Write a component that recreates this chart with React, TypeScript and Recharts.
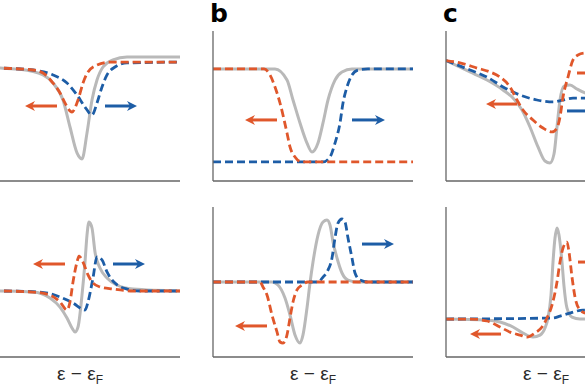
import React from "react";
import { LineChart, Line, XAxis, YAxis } from "recharts";

// ---- data (energy relative to E_F in arbitrary units, signal in arbitrary units) ----
const xTicks = [0];

const topAGray = [[-5,7.62],[-4,7.53],[-3,7.45],[-1.85,7.07],[-1.35,6.53],[-0.85,5.4],[-0.5,3.6],[-0.15,1.87],[0.1,1.47],[0.35,3.2],[0.6,5.4],[0.85,6.73],[1.15,7.6],[1.65,8.07],[2.35,8.27],[5,8.27]];
const topAOrange = [[-5,7.6],[-4,7.53],[-2.35,7.4],[-1.85,7.2],[-1.35,6.53],[-1.0,5.87],[-0.75,5.2],[-0.4,4.6],[-0.1,5.4],[0.15,6.53],[0.4,7.27],[0.85,7.73],[1.5,7.93],[5,7.93]];
const topABlue = [[-5,7.6],[-4,7.53],[-2.35,7.4],[-1.35,7.07],[-0.65,6.53],[-0.15,5.73],[0.25,4.93],[0.6,4.4],[0.85,5.2],[1.1,6.27],[1.35,7.07],[1.75,7.6],[2.35,7.87],[5,7.93]];

const topBGray = [[-5,7.47],[-1.9,7.47],[-1.3,6.73],[-1.0,5.4],[-0.65,3.87],[-0.3,2.53],[-0.05,1.93],[0.25,2.53],[0.5,3.87],[0.75,5.4],[1.1,6.73],[1.45,7.27],[1.95,7.47],[5,7.47]];
const topBOrange = [[-5,7.47],[-2.45,7.47],[-2.15,7.07],[-1.9,6.27],[-1.65,5.2],[-1.3,3.2],[-1.15,2.27],[-0.9,1.6],[-0.55,1.27],[5,1.27]];
const topBBlue = [[-5,1.27],[0.5,1.27],[0.85,1.6],[1.1,2.53],[1.35,3.87],[1.5,5.2],[1.7,6.27],[1.95,7.07],[2.25,7.4],[2.75,7.47],[5,7.47]];

const topCGray = [[-5,8.03],[-3.8,7.27],[-2.95,6.73],[-2.15,6.07],[-1.65,5.53],[-1.2,4.73],[-0.8,3.6],[-0.4,2.27],[-0.05,1.33],[0.2,1.2],[0.4,1.8],[0.55,3.6],[0.7,5.4],[0.9,6.33],[1.2,6.4],[1.55,6.13],[1.95,5.87],[3,5.6],[5,5.4]];
const topCOrange = [[-5,8.03],[-4.3,7.87],[-3.45,7.53],[-2.8,7.27],[-2.3,6.93],[-1.8,6.27],[-1.45,5.4],[-1.15,4.73],[-0.65,4.07],[-0.15,3.53],[0.3,3.27],[0.55,3.53],[0.7,4.27],[0.85,5.6],[1.1,6.93],[1.35,8.07],[1.6,8.4],[1.95,8.53],[3,8.6],[5,8.6]];
const topCBlue = [[-5,8.03],[-3.8,7.4],[-2.95,6.93],[-2.15,6.27],[-1.3,5.73],[-0.45,5.4],[0.35,5.27],[0.85,5.4],[1.35,5.53],[1.95,5.53],[5,5.6]];

const botAGray = [[-5,0],[-4,0],[-2.35,-0.07],[-1.5,-0.47],[-1.0,-1.07],[-0.65,-1.8],[-0.4,-2.47],[-0.25,-2.73],[-0.1,-2.4],[0.1,-0.27],[0.25,1.93],[0.35,3.73],[0.45,4.6],[0.6,4.2],[0.75,2.6],[1.0,1.53],[1.35,0.87],[1.85,0.4],[2.65,0.13],[5,0]];
const botAOrange = [[-5,0],[-4,0],[-2.35,-0.07],[-1.5,-0.27],[-1.0,-0.73],[-0.65,-1.27],[-0.5,-0.73],[-0.35,0.6],[-0.15,1.93],[-0.05,2.33],[0.15,1.93],[0.4,1.07],[0.65,0.53],[1.0,0.27],[1.65,0.13],[2.65,0],[5,0]];
const botABlue = [[-5,0],[-4,0],[-2.0,-0.07],[-1.0,-0.4],[-0.35,-0.8],[0.25,-1.27],[0.4,-0.73],[0.65,0.87],[0.85,2.27],[1.1,2.07],[1.35,1.27],[1.75,0.53],[2.35,0.13],[3.0,0],[5,0]];

const botBGray = [[-5,0],[-2.05,0],[-1.75,-0.2],[-1.4,-1.07],[-1.15,-2.2],[-0.9,-3.53],[-0.65,-4.07],[-0.5,-3.53],[-0.3,-1.73],[-0.15,-0.07],[0,1.33],[0.25,3.13],[0.5,4.0],[0.7,4.13],[0.85,3.8],[1.0,2.67],[1.2,1.6],[1.45,0.6],[1.75,0.13],[2.25,0],[5,0]];
const botBOrange = [[-5,0],[-2.65,0],[-2.5,-0.33],[-2.3,-0.87],[-2.05,-2.2],[-1.8,-3.33],[-1.65,-4.0],[-1.5,-4.07],[-1.3,-3.53],[-1.15,-2.4],[-1.0,-1.33],[-0.8,-0.53],[-0.55,-0.2],[-0.25,0],[5,0]];
const botBBlue = [[-5,0],[0.25,0],[0.5,0.33],[0.7,0.67],[0.95,1.6],[1.1,2.93],[1.25,3.93],[1.45,4.2],[1.6,4.0],[1.75,2.93],[1.95,1.6],[2.1,0.6],[2.35,0.13],[2.75,0],[5,0]];

const botCGray = [[-5,0],[-2.95,-0.07],[-2.3,-0.2],[-1.65,-0.53],[-1.15,-0.93],[-0.65,-1.2],[-0.3,-1.07],[-0.05,-0.6],[0.1,0.07],[0.25,1.6],[0.35,3.8],[0.45,5.4],[0.55,6.07],[0.65,5.6],[0.8,3.8],[0.9,2.2],[1.05,0.73],[1.3,0.13],[1.7,0],[5,0]];
const botCOrange = [[-5,0],[-3.8,0],[-2.95,-0.13],[-2.3,-0.53],[-1.8,-0.87],[-1.3,-1.07],[-0.95,-1.2],[-0.55,-0.93],[-0.2,-0.53],[0.05,0.07],[0.3,0.93],[0.55,2.47],[0.7,3.8],[0.85,4.73],[1.05,5.13],[1.15,4.47],[1.3,2.8],[1.45,1.47],[1.7,0.6],[1.95,0.4],[3,0.1],[5,0]];
const botCBlue = [[-5,0],[0.35,0.07],[0.7,0.2],[1.2,0.4],[1.85,0.6],[5,0.6]];

// arrows: [fromE, toE, level]
const arrowsTopA = { orange: [[-1.15,-2.75,5]], blue: [[1.25,2.85,5]] };
const arrowsTopB = { orange: [[-1.8,-3.4,4.07]], blue: [[1.95,3.6,4.07]] };
const arrowsTopC = { orange: [[-1.45,-3.0,5.13],[1.55,3.15,7.2]], blue: [[1.05,2.65,4.67]] };
const arrowsBotA = { orange: [[-0.75,-2.35,1.8]], blue: [[1.65,3.25,1.8]] };
const arrowsBotB = { orange: [[-2.3,-3.9,-2.93]], blue: [[2.45,4.05,2.53]] };
const arrowsBotC = { orange: [[-2.25,-3.8,-1.0],[1.6,3.2,3.8]], blue: [] as number[][] };

const panelLabels = ["b", "c"];
const xLabel = "ε − ε";
const xLabelSub = "F";

// ---- styles ----
const GRAY = "#b9b9b9";
const ORANGE = "#e0572b";
const BLUE = "#1d5da6";
const AX = "#666666";
const PX_PER_UNIT = 20;

const toPts = (arr: number[][]) => arr.map(([e, v]) => ({ e, v }));

const arrowDot = (dir: number, color: string) => (p: any) => {
  const { cx, cy, index } = p;
  if (index !== 1 || cx == null) return <g key={`a${index}`} />;
  const tip = cx;
  const back = cx - dir * 10;
  const notch = cx - dir * 7;
  return (
    <polygon
      key={`a${index}`}
      points={`${tip},${cy} ${back},${cy - 5} ${notch},${cy} ${back},${cy + 5}`}
      fill={color}
      stroke="none"
    />
  );
};

const renderArrows = (list: number[][], color: string, prefix: string) =>
  list.map(([from, to, lvl], i) => {
    const dir = Math.sign(to - from);
    const len = Math.abs(to - from) * PX_PER_UNIT;
    return (
      <Line
        key={`${prefix}${i}`}
        data={[{ e: from, v: lvl }, { e: to, v: lvl }]}
        dataKey="v"
        type="linear"
        stroke={color}
        strokeWidth={3}
        strokeDasharray={`${len - 6} 1000`}
        dot={arrowDot(dir, color)}
        activeDot={false}
        isAnimationActive={false}
      />
    );
  });

type PanelProps = {
  left: number;
  top: number;
  yDomain: number[];
  gray: number[][];
  orange: number[][];
  blue: number[][];
  arrows: { orange: number[][]; blue: number[][] };
  zeroTick?: boolean;
};

const Panel = ({ left, top, yDomain, gray, orange, blue, arrows, zeroTick }: PanelProps) => (
  <div style={{ position: "absolute", left, top }}>
    <LineChart width={210} height={160} margin={{ top: 0, right: 0, bottom: 0, left: 0 }}>
      <XAxis
        type="number"
        dataKey="e"
        domain={[-5, 5]}
        ticks={xTicks}
        tick={false}
        tickSize={5}
        height={10}
        axisLine={{ stroke: AX, strokeWidth: 1.3 }}
        tickLine={{ stroke: AX }}
        allowDataOverflow
      />
      <YAxis
        type="number"
        dataKey="v"
        domain={yDomain}
        width={10}
        ticks={zeroTick ? [0] : undefined}
        tick={false}
        tickSize={7}
        tickLine={zeroTick ? { stroke: AX } : false}
        axisLine={{ stroke: AX, strokeWidth: 1.3 }}
        allowDataOverflow
      />
      <Line data={toPts(gray)} dataKey="v" type="monotone" stroke={GRAY} strokeWidth={3} dot={false} activeDot={false} isAnimationActive={false} />
      <Line data={toPts(blue)} dataKey="v" type="monotone" stroke={BLUE} strokeWidth={2.8} strokeDasharray="8 4" dot={false} activeDot={false} isAnimationActive={false} />
      <Line data={toPts(orange)} dataKey="v" type="monotone" stroke={ORANGE} strokeWidth={2.8} strokeDasharray="8 4" dot={false} activeDot={false} isAnimationActive={false} />
      {renderArrows(arrows.orange, ORANGE, "o")}
      {renderArrows(arrows.blue, BLUE, "b")}
    </LineChart>
  </div>
);

const XLabel = ({ cx }: { cx: number }) => (
  <div
    style={{
      position: "absolute",
      left: cx - 45,
      top: 363,
      width: 90,
      textAlign: "center",
      fontSize: 19,
      lineHeight: "22px",
      color: "#2a2a2a",
      fontFamily: "'Liberation Sans', Arial, sans-serif",
      whiteSpace: "nowrap",
    }}
  >
    {xLabel}
    <sub style={{ fontSize: 12, verticalAlign: "-4px" }}>{xLabelSub}</sub>
  </div>
);

const PanelLetter = ({ x, text }: { x: number; text: string }) => (
  <div
    style={{
      position: "absolute",
      left: x,
      top: 0,
      fontSize: 25,
      lineHeight: "28px",
      fontWeight: "bold",
      color: "#000",
      fontFamily: "'DejaVu Sans', sans-serif",
    }}
  >
    {text}
  </div>
);

export default function App() {
  return (
    <div
      style={{
        position: "absolute",
        left: 0,
        top: 0,
        width: 585,
        height: 390,
        overflow: "hidden",
        background: "#fff",
      }}
    >
      <Panel left={-30} top={31} yDomain={[0, 10]} gray={topAGray} orange={topAOrange} blue={topABlue} arrows={arrowsTopA} />
      <Panel left={203} top={31} yDomain={[0, 10]} gray={topBGray} orange={topBOrange} blue={topBBlue} arrows={arrowsTopB} />
      <Panel left={436} top={31} yDomain={[0, 10]} gray={topCGray} orange={topCOrange} blue={topCBlue} arrows={arrowsTopC} />
      <Panel left={-30} top={207} yDomain={[-4.4, 5.6]} gray={botAGray} orange={botAOrange} blue={botABlue} arrows={arrowsBotA} zeroTick />
      <Panel left={203} top={207} yDomain={[-5, 5]} gray={botBGray} orange={botBOrange} blue={botBBlue} arrows={arrowsBotB} zeroTick />
      <Panel left={436} top={207} yDomain={[-2.53, 7.47]} gray={botCGray} orange={botCOrange} blue={botCBlue} arrows={arrowsBotC} zeroTick />
      <PanelLetter x={210} text={panelLabels[0]} />
      <PanelLetter x={443} text={panelLabels[1]} />
      <XLabel cx={80} />
      <XLabel cx={313} />
      <XLabel cx={546} />
    </div>
  );
}
